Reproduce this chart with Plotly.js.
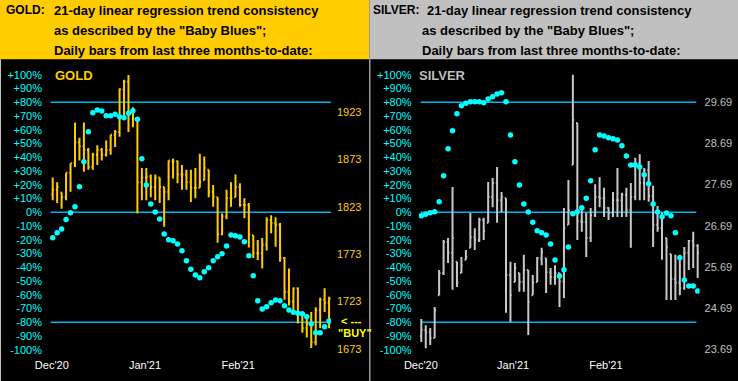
<!DOCTYPE html>
<html>
<head>
<meta charset="utf-8">
<script src="https://cdn.plot.ly/plotly-3.0.1.min.js"></script>
<style>
html,body{margin:0;padding:0;background:#000;}
#chart{width:738px;height:381px;}
</style>
</head>
<body>
<div id="chart"></div>
<script>
// ---------- DATA ----------
const monthLabels = ["Dec'20", "Jan'21", "Feb'21"];
const pctTickVals = [100,90,80,70,60,50,40,30,20,10,0,-10,-20,-30,-40,-50,-60,-70,-80,-90,-100];
const goldPriceTicks = [1673, 1723, 1773, 1823, 1873, 1923];
const silverPriceTicks = [23.69, 24.69, 25.69, 26.69, 27.69, 28.69, 29.69];

const goldOpen = [1836,1841,1838,1833,1859,1869,1891,1887,1883,1865,
  1878,1883,1878,1883,1899,1902,1947,1955,1922,1914,
  1849,1854,1855,1844,1854,1844,1839,1871,1871,1857,
  1857,1849,1843,1843,1851,1862,1839,1833,1794,1813,
  1832,1833,1844,1825,1825,1793,1774,1774,1783,1809,
  1806,1804,1769,1733,1723,1737,1711,1695,1700,1680,
  1714,1725,1722];
const goldHigh = [1854,1849,1838,1859,1869,1912,1896,1912,1885,1880,
  1888,1885,1893,1899,1904,1948,1957,1962,1928,1915,
  1864,1864,1857,1857,1854,1844,1872,1874,1872,1867,
  1862,1862,1864,1879,1876,1862,1846,1833,1816,1841,
  1849,1857,1848,1832,1827,1793,1788,1790,1812,1814,
  1812,1806,1770,1758,1738,1738,1712,1709,1712,1717,
  1727,1737,1728];
const goldLow = [1830,1827,1821,1830,1839,1865,1872,1860,1862,1862,
  1867,1872,1876,1878,1886,1897,1917,1902,1907,1816,
  1830,1830,1833,1830,1827,1802,1830,1853,1848,1841,
  1841,1828,1832,1843,1851,1833,1823,1785,1793,1810,
  1823,1833,1823,1811,1780,1769,1767,1758,1777,1795,
  1781,1765,1725,1719,1712,1700,1690,1685,1674,1677,
  1695,1712,1695];
const goldClose = [1841,1844,1833,1859,1869,1891,1887,1883,1865,1878,
  1883,1878,1883,1899,1902,1947,1955,1922,1916,1849,
  1854,1855,1844,1854,1844,1839,1872,1871,1857,1857,
  1849,1843,1843,1849,1864,1839,1834,1794,1813,1832,
  1832,1844,1825,1825,1794,1774,1774,1783,1809,1806,
  1804,1769,1733,1723,1737,1711,1695,1700,1680,1714,
  1725,1722,1726];
const goldBlues = [-18.5,-14.8,-12.1,-5.2,-0.3,4.1,18.6,36.8,58.6,72.4,
  74.4,73.7,70.3,70.3,71.3,69.5,68.8,72,73.9,67.6,
  39,19.9,6,0.2,-4.9,-15.8,-19.9,-20.7,-23.1,-27.9,
  -35.2,-41.5,-45.6,-47.6,-43.2,-40.3,-35.2,-32.3,-30.1,-24.5,
  -16.5,-17,-18,-21.4,-31.6,-46.1,-64.3,-70.3,-68.7,-65.7,
  -63.8,-64.3,-67.9,-71.1,-72.7,-73.5,-73.7,-75.9,-81.2,-87.6,
  -87.6,-83.2,-79.1];

const silverOpen = [24.00,24.15,24.10,23.96,25.00,25.54,26.29,26.03,25.81,25.54,
  25.86,26.15,26.41,26.34,26.83,26.76,27.39,27.73,27.31,27.36,
  25.49,25.32,25.54,25.32,25.61,25.00,25.32,25.90,25.90,25.56,
  25.44,25.54,25.34,26.71,28.17,29.19,26.80,26.78,26.39,26.95,
  27.39,27.36,27.12,27.00,27.31,27.31,27.44,27.07,27.39,28.21,
  27.73,28.04,27.41,26.71,26.63,26.39,26.00,25.39,25.30,25.17,
  26.03,26.32,26.20];
const silverHigh = [24.42,24.27,24.20,24.71,25.61,26.34,26.39,27.63,25.81,25.93,
  26.10,27.00,26.63,26.88,26.88,27.75,27.85,28.12,27.51,27.36,
  25.81,25.78,25.54,25.98,25.61,25.49,25.93,26.15,25.90,25.66,
  25.73,25.54,27.12,27.80,30.36,29.19,27.14,27.00,27.12,27.70,
  27.87,27.61,27.14,27.51,28.09,27.49,27.61,27.73,28.34,28.43,
  28.09,28.26,27.66,27.17,27.00,26.39,26.00,25.98,25.98,26.17,
  26.34,26.54,26.24];
const silverLow = [23.86,23.71,23.79,23.96,25.00,25.49,25.78,25.13,25.20,25.54,
  25.86,26.15,26.10,26.29,26.34,26.76,27.14,26.76,27.02,24.57,
  24.35,25.32,25.08,25.08,24.03,25.00,25.32,25.73,25.05,25.25,
  25.25,24.71,24.93,26.71,28.17,26.34,26.54,25.93,26.29,26.90,
  27.14,26.90,26.83,26.90,26.90,26.90,26.90,26.15,27.31,27.31,
  27.31,27.27,26.17,26.54,25.86,24.88,24.88,24.88,25.00,25.13,
  25.61,25.66,25.42];
const silverClose = [24.15,24.10,23.96,24.64,25.54,26.29,26.03,26.39,25.30,25.73,
  25.93,26.41,26.34,26.83,26.56,27.39,27.73,27.31,27.39,25.49,
  25.00,25.66,25.32,25.61,24.83,25.30,25.90,26.05,25.56,25.44,
  25.54,25.34,26.63,27.07,29.26,26.80,26.78,26.39,26.95,27.39,
  27.36,27.12,27.00,27.31,27.31,27.44,27.07,27.39,28.21,27.73,
  28.04,27.41,26.71,26.63,26.88,26.17,25.39,25.30,25.17,26.03,
  26.32,26.20,26.03];
const silverBlues = [-2.5,-1.5,-0.3,0.4,7.7,26.6,46.3,59.3,71.7,77.5,
  79.3,80.4,80.4,80.4,79.7,82.4,84.1,86,86.9,80.4,
  56.2,36.8,19.9,6,0.2,-7.3,-13.4,-14.8,-16.5,-23.1,
  -34.7,-46.3,-41.7,-25.2,-1,0.4,3.3,10.2,23,45.5,
  56.2,55.5,54.3,53.5,52.6,48.4,40.9,34.4,34.4,32.9,
  27.3,20.8,6,0.2,-3.2,-0.5,-2.5,-14.8,-33,-49.2,
  -53.6,-53.6,-57.3];

const levelLines = [80, 0, -80];

// ---------- LAYOUT HELPERS ----------
const W = 738, H = 381;
const px = x => x / W;
const py = y => 1 - y / H;
const idx = goldClose.map((_, i) => i);
const monthPos = [-0.2, 20.7, 41.6];
const FONT = 'Liberation Sans, Arial, sans-serif';

const pctText = pctTickVals.map(v => (v > 0 ? '+' : '') + v + '%');
const gPriceText = goldPriceTicks.map(v => String(v));
const sPriceText = silverPriceTicks.map(v => v.toFixed(2));

const yDom = [py(356), py(62)];
const pctRange = [-104.5, 109.3];

const traces = [
  { type: 'ohlc', x: idx, open: goldOpen, high: goldHigh, low: goldLow, close: goldClose,
    xaxis: 'x', yaxis: 'y', tickwidth: 0.72,
    increasing: { line: { color: '#FFCC00', width: 2 } },
    decreasing: { line: { color: '#FFCC00', width: 2 } },
    hoverinfo: 'skip', showlegend: false },
  { type: 'scatter', mode: 'markers', x: idx, y: goldBlues, xaxis: 'x', yaxis: 'y2',
    marker: { color: '#00FFFF', size: 5.5 }, hoverinfo: 'skip', showlegend: false },
  { type: 'ohlc', x: idx, open: silverOpen, high: silverHigh, low: silverLow, close: silverClose,
    xaxis: 'x2', yaxis: 'y3', tickwidth: 0.72,
    increasing: { line: { color: '#C8C8C8', width: 2 } },
    decreasing: { line: { color: '#C8C8C8', width: 2 } },
    hoverinfo: 'skip', showlegend: false },
  { type: 'scatter', mode: 'markers', x: idx, y: silverBlues, xaxis: 'x2', yaxis: 'y4',
    marker: { color: '#00FFFF', size: 5.5 }, hoverinfo: 'skip', showlegend: false }
];

const xBase = {
  range: [-0.606, 62.43], showgrid: false, zeroline: false, showline: false, ticks: '',
  tickmode: 'array', tickvals: monthPos, ticktext: monthLabels,
  tickfont: { family: FONT, size: 11, color: '#FFFFFF' },
  ticklabelstandoff: 1, rangeslider: { visible: false }, fixedrange: true
};
const yCommon = { showgrid: false, zeroline: false, showline: false, ticks: '', fixedrange: true, domain: yDom };

const shapes = [
  // header backgrounds
  { type: 'rect', xref: 'paper', yref: 'paper', x0: 0, x1: px(369.3), y0: py(59.3), y1: 1,
    fillcolor: '#FFCC00', line: { width: 0 }, layer: 'below' },
  { type: 'rect', xref: 'paper', yref: 'paper', x0: px(369.3), x1: 1, y0: py(59.3), y1: 1,
    fillcolor: '#C0C0C0', line: { width: 0 }, layer: 'below' },
  // panel borders
  { type: 'line', xref: 'paper', yref: 'paper', x0: px(0.5), x1: px(0.5), y0: 0, y1: py(59.3),
    line: { color: '#C0C0C0', width: 1 }, layer: 'below' },
  { type: 'line', xref: 'paper', yref: 'paper', x0: px(369.8), x1: px(369.8), y0: 0, y1: py(59.3),
    line: { color: '#C0C0C0', width: 1.2 }, layer: 'below' }
];
levelLines.forEach(v => {
  shapes.push({ type: 'line', xref: 'paper', yref: 'y2', x0: px(50.5), x1: px(331), y0: v, y1: v,
    line: { color: '#00B4F0', width: 1.5 }, layer: 'below' });
  shapes.push({ type: 'line', xref: 'paper', yref: 'y4', x0: px(420.7), x1: px(696.3), y0: v, y1: v,
    line: { color: '#00B4F0', width: 1.5 }, layer: 'below' });
});

const hdr = (text, x, y, size) => ({ text: '<b>' + text + '</b>', xref: 'paper', yref: 'paper',
  x: px(x), y: py(y), xanchor: 'left', yanchor: 'middle', showarrow: false,
  font: { family: FONT, size: size || 13, color: '#000000' } });

const annotations = [
  hdr('GOLD:', 3.5, 10.5, 12),
  hdr('21-day linear regression trend consistency', 51.7, 10.5),
  hdr('as described by the "Baby Blues";', 51.7, 30.5),
  hdr('Daily bars from last three months-to-date:', 51.7, 50.5),
  hdr('SILVER:', 370.5, 10.5, 12),
  hdr('21-day linear regression trend consistency', 424.7, 10.5),
  hdr('as described by the "Baby Blues";', 420.3, 30.5),
  hdr('Daily bars from last three months-to-date:', 420.3, 50.5),
  { text: '<b>GOLD</b>', xref: 'paper', yref: 'paper', x: px(53), y: py(75.7), xanchor: 'left', yanchor: 'middle',
    showarrow: false, font: { family: FONT, size: 13, color: '#FFCC00' } },
  { text: '<b>SILVER</b>', xref: 'paper', yref: 'paper', x: px(417), y: py(75.7), xanchor: 'left', yanchor: 'middle',
    showarrow: false, font: { family: FONT, size: 13, color: '#BEBEBE' } },
  { text: '<b>&lt; ---</b>', xref: 'paper', yref: 'paper', x: px(339), y: py(321), xanchor: 'left', yanchor: 'middle',
    showarrow: false, font: { family: FONT, size: 11, color: '#FFFF00' } },
  { text: '<b>"BUY"</b>', xref: 'paper', yref: 'paper', x: px(335.5), y: py(333), xanchor: 'left', yanchor: 'middle',
    showarrow: false, font: { family: FONT, size: 11, color: '#FFFF00' } }
];

const layout = {
  width: W, height: H,
  margin: { l: 0, r: 0, t: 0, b: 0, pad: 0 },
  paper_bgcolor: '#000000', plot_bgcolor: 'rgba(0,0,0,0)',
  showlegend: false, dragmode: false,
  xaxis: Object.assign({}, xBase, { domain: [px(50), px(331)], anchor: 'y' }),
  xaxis2: Object.assign({}, xBase, { domain: [px(418.6), px(699.6)], anchor: 'y3', tickvals: [-0.1, 20.6, 41.4] }),
  yaxis: Object.assign({}, yCommon, { anchor: 'x', side: 'right', range: [1665.6, 1975.8],
    tickmode: 'array', tickvals: goldPriceTicks, ticktext: gPriceText, ticklabelstandoff: 5,
    tickfont: { family: FONT, size: 11, color: '#FFCC00' } }),
  yaxis2: Object.assign({}, yCommon, { anchor: 'x', side: 'left', overlaying: 'y', range: pctRange,
    tickmode: 'array', tickvals: pctTickVals, ticktext: pctText, ticklabelstandoff: 7,
    tickfont: { family: FONT, size: 11, color: '#00FFFF' } }),
  yaxis3: Object.assign({}, yCommon, { anchor: 'x2', side: 'right', range: [23.52, 30.671],
    tickmode: 'array', tickvals: silverPriceTicks, ticktext: sPriceText, ticklabelstandoff: 4,
    tickfont: { family: FONT, size: 11, color: '#C0C0C0' } }),
  yaxis4: Object.assign({}, yCommon, { anchor: 'x2', side: 'left', overlaying: 'y3', range: pctRange,
    tickmode: 'array', tickvals: pctTickVals, ticktext: pctText, ticklabelstandoff: 6,
    tickfont: { family: FONT, size: 11, color: '#00FFFF' } }),
  shapes: shapes,
  annotations: annotations
};

Plotly.newPlot('chart', traces, layout, { staticPlot: true, displayModeBar: false });
</script>
</body>
</html>
